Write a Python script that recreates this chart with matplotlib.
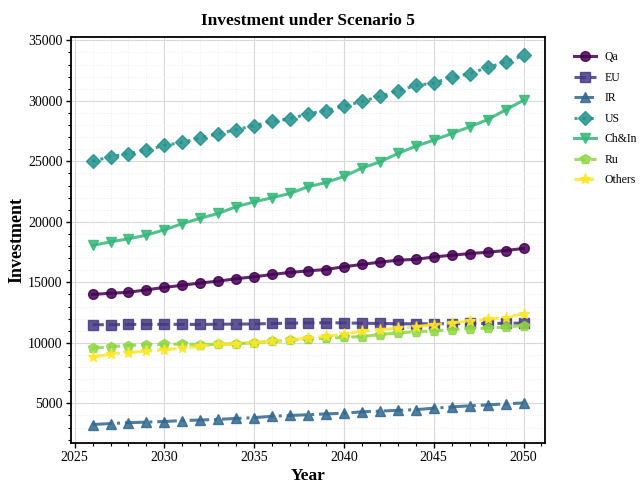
import matplotlib
matplotlib.use("Agg")
import matplotlib.pyplot as plt
import numpy as np
from matplotlib.ticker import AutoMinorLocator, MultipleLocator

plt.rcParams['font.family'] = ['Liberation Serif', 'DejaVu Serif']

years = list(range(2026, 2051))
qa = [14000,14100,14180,14380,14580,14760,14950,15100,15300,15460,15650,15820,15950,16060,16290,
      16480,16670,16830,16900,17100,17240,17380,17490,17630,17800]
eu = [11500,11500,11520,11530,11530,11530,11520,11540,11550,11560,11600,11620,11650,11660,11650,
      11620,11600,11580,11570,11580,11590,11600,11600,11620,11630]
ir = [3250,3330,3400,3450,3500,3580,3620,3680,3750,3820,3930,4000,4060,4130,4180,
      4300,4360,4420,4480,4600,4700,4800,4870,4960,5030]
us = [25000,25390,25640,25910,26320,26570,26930,27290,27620,27950,28300,28520,28930,29200,29550,
      29950,30360,30830,31270,31470,31960,32240,32760,33200,33750]
chin = [18050,18350,18600,18900,19350,19850,20300,20700,21250,21650,22000,22350,22900,23250,23750,
        24450,24950,25650,26250,26750,27300,27850,28450,29250,30050]
ru = [9550,9680,9780,9850,9870,9900,9850,9880,9930,10000,10130,10200,10320,10380,10450,
      10520,10680,10820,10930,10980,11100,11180,11200,11320,11420]
others = [8850,9050,9190,9320,9450,9550,9720,9870,9930,10020,10150,10230,10420,10530,10720,
          10950,11100,11190,11340,11500,11650,11800,11940,12080,12400]

labels = ['Qa', 'EU', 'IR', 'US', 'Ch&In', 'Ru', 'Others']
series = [qa, eu, ir, us, chin, ru, others]
markers = ['o', 's', '^', 'D', 'v', 'p', '*']
styles = ['-', '--', '-.', ':', '-', '--', '-.']
msizes = [7, 7, 7, 7, 7, 7, 8]
colors = plt.cm.viridis(np.linspace(0, 1, 7))

fig = plt.figure(figsize=(6.42, 4.91), dpi=100)
ax = fig.add_axes([0.1106, 0.0978, 0.7384, 0.8268])

for s, lab, m, ls, ms, c in zip(series, labels, markers, styles, msizes, colors):
    ax.plot(years, s, linestyle=ls, marker=m, markersize=ms, linewidth=2.2, color=c,
            alpha=0.85, label=lab)

ax.xaxis.set_major_locator(MultipleLocator(5))
ax.yaxis.set_major_locator(MultipleLocator(5000))
ax.xaxis.set_minor_locator(AutoMinorLocator(5))
ax.yaxis.set_minor_locator(AutoMinorLocator(5))
ax.grid(which='major', color='#d8d8d8', linewidth=0.8)
ax.grid(which='minor', color='#ececec', linewidth=0.6, linestyle=':')
ax.set_axisbelow(True)
ax.tick_params(which='major', direction='out', length=3.5, width=1, labelsize=10, pad=2.5)
ax.tick_params(which='minor', direction='out', length=2, width=0.8)
for sp in ax.spines.values():
    sp.set_linewidth(1.3)
    sp.set_color('black')

ax.set_title('Investment under Scenario 5', fontsize=12.5, fontweight='bold', pad=9)
ax.set_xlabel('Year', fontsize=12.5, fontweight='bold', labelpad=3)
ax.set_ylabel('Investment', fontsize=13, fontweight='bold')
ax.yaxis.set_label_coords(-0.097, 0.5)

fig.legend(loc='upper left', bbox_to_anchor=(0.877, 0.917), frameon=False, fontsize=8.5,
           handlelength=1.9, handletextpad=0.7, labelspacing=0.72)

fig.savefig('out.png', dpi=100)
